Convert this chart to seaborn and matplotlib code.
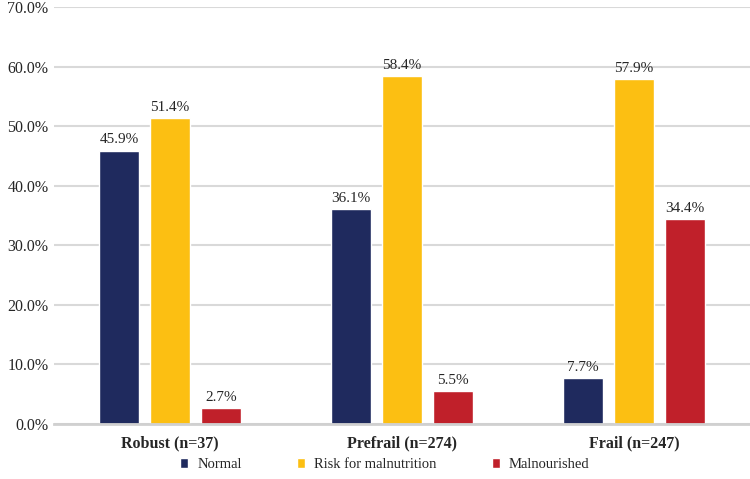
import pandas as pd
import numpy as np
import matplotlib
matplotlib.use("Agg")
import matplotlib.pyplot as plt
import seaborn as sns

# data
groups = ["Robust (n=37)", "Prefrail (n=274)", "Frail (n=247)"]
statuses = ["Normal", "Risk for malnutrition", "Malnourished"]
normal = [45.9, 36.1, 7.7]
risk = [51.4, 58.4, 57.9]
malnourished = [2.7, 5.5, 34.4]

df = pd.DataFrame({
    "group": groups * 3,
    "status": [s for s in statuses for _ in groups],
    "value": normal + risk + malnourished,
})

colors = ["#1F2A5E", "#FCBF12", "#C0202A"]

sns.set_style("white")
plt.rcParams["font.family"] = ["Liberation Serif", "DejaVu Serif"]

fig = plt.figure(figsize=(7.5, 4.79), dpi=100)
ax = fig.add_axes([0.072, 0.115, 0.928, 0.87])

sns.barplot(data=df, x="group", y="value", hue="status", order=groups,
            hue_order=statuses, palette=colors, width=0.66, gap=0.2,
            saturation=1, ax=ax, legend=True)

for c in ax.containers:
    ax.bar_label(c, labels=[f"{v:.1f}%" for v in c.datavalues],
                 padding=3, fontsize=11)

ax.set_ylim(0, 70)
ax.set_xlim(-0.5, 2.5)
ax.set_yticks(np.arange(0, 71, 10))
ax.set_yticklabels([f"{t:.1f}%" for t in np.arange(0, 71, 10)], fontsize=11.5)
ax.tick_params(axis="x", labelsize=11.5, length=0, pad=8)
ax.tick_params(axis="y", length=0, pad=4)
for lab in ax.get_xticklabels():
    lab.set_fontweight("bold")
ax.set_xlabel("")
ax.set_ylabel("")
ax.yaxis.grid(True, color="#D9D9D9", linewidth=1.5)
ax.set_axisbelow(True)
for s in ["top", "right", "left"]:
    ax.spines[s].set_visible(False)
ax.spines["bottom"].set_color("#D0D0D0")
ax.spines["bottom"].set_linewidth(2)

handles, labels = ax.get_legend_handles_labels()
ax.get_legend().remove()
leg = fig.legend(handles, labels, loc="center", bbox_to_anchor=(0.513, 0.031),
                 ncol=3, frameon=False, fontsize=10.5,
                 handlelength=0.55, handleheight=0.7, columnspacing=3.8,
                 handletextpad=0.6)

fig.savefig("out.png", dpi=100)
